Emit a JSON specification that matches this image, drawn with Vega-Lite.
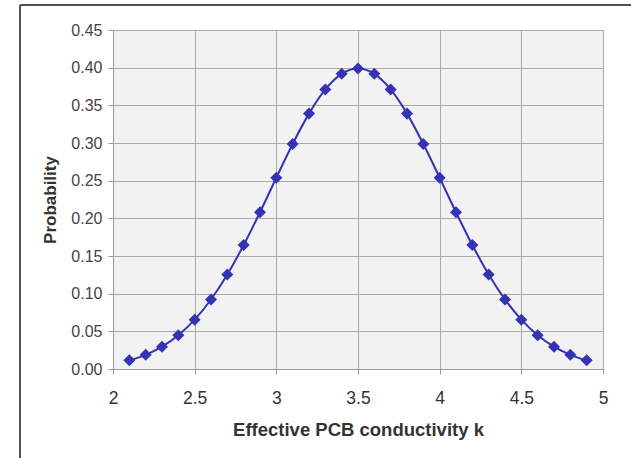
{
  "$schema": "https://vega.github.io/schema/vega-lite/v6.json",
  "width": 490,
  "height": 339,
  "autosize": {"type": "none"},
  "padding": {"left": 113, "top": 30, "right": 28, "bottom": 89},
  "background": "#ffffff",
  "config": {
    "view": {"fill": "#f2f2f2", "stroke": "#aaaaaa", "strokeWidth": 1},
    "font": "Liberation Sans",
    "axis": {
      "titleFont": "Liberation Sans",
      "titleFontWeight": "bold",
      "titleColor": "#333333",
      "labelFont": "Liberation Sans",
      "labelColor": "#444444",
      "labelFlush": false,
      "labelOverlap": false,
      "tickSize": 5,
      "tickColor": "#999999",
      "domainColor": "#999999",
      "gridColor": "#aaaaaa",
      "gridOpacity": 1
    },
    "axisX": {"labelFontSize": 17.5, "labelPadding": 15, "titleFontSize": 18.5, "titlePadding": 14, "labelColor": "#333333"},
    "axisY": {"labelFontSize": 16, "labelPadding": 6, "titleFontSize": 17, "titlePadding": 11}
  },
  "data": {
    "values": [
      {"k": 2.1, "p": 0.0115},
      {"k": 2.2, "p": 0.0188},
      {"k": 2.3, "p": 0.0296},
      {"k": 2.4, "p": 0.0448},
      {"k": 2.5, "p": 0.0655},
      {"k": 2.6, "p": 0.0923},
      {"k": 2.7, "p": 0.1255},
      {"k": 2.8, "p": 0.1646},
      {"k": 2.9, "p": 0.2081},
      {"k": 3.0, "p": 0.2539},
      {"k": 3.1, "p": 0.2987},
      {"k": 3.2, "p": 0.339},
      {"k": 3.3, "p": 0.3711},
      {"k": 3.4, "p": 0.3918},
      {"k": 3.5, "p": 0.3989},
      {"k": 3.6, "p": 0.3918},
      {"k": 3.7, "p": 0.3711},
      {"k": 3.8, "p": 0.339},
      {"k": 3.9, "p": 0.2987},
      {"k": 4.0, "p": 0.2539},
      {"k": 4.1, "p": 0.2081},
      {"k": 4.2, "p": 0.1646},
      {"k": 4.3, "p": 0.1255},
      {"k": 4.4, "p": 0.0923},
      {"k": 4.5, "p": 0.0655},
      {"k": 4.6, "p": 0.0448},
      {"k": 4.7, "p": 0.0296},
      {"k": 4.8, "p": 0.0188},
      {"k": 4.9, "p": 0.0115}
    ]
  },
  "encoding": {
    "x": {
      "field": "k", "type": "quantitative",
      "scale": {"domain": [2, 5], "nice": false, "zero": false},
      "axis": {
        "values": [2, 2.5, 3, 3.5, 4, 4.5, 5],
        "format": "~g",
        "title": "Effective PCB conductivity k"
      }
    },
    "y": {
      "field": "p", "type": "quantitative",
      "scale": {"domain": [0, 0.45], "nice": false},
      "axis": {
        "values": [0, 0.05, 0.1, 0.15, 0.2, 0.25, 0.3, 0.35, 0.4, 0.45],
        "format": ".2f",
        "title": "Probability"
      }
    }
  },
  "layer": [
    {
      "mark": {"type": "rule", "stroke": "#555555", "strokeWidth": 1.5, "clip": false},
      "encoding": {
        "x": {"datum": 1.431, "type": "quantitative"},
        "y": {"datum": 0.4832, "type": "quantitative"},
        "y2": {"datum": -0.3}
      }
    },
    {
      "mark": {"type": "rule", "stroke": "#555555", "strokeWidth": 1.5, "clip": false},
      "encoding": {
        "x": {"datum": 1.431, "type": "quantitative"},
        "x2": {"datum": 8},
        "y": {"datum": 0.4832, "type": "quantitative"}
      }
    },
    {
      "mark": {"type": "line", "interpolate": "monotone", "color": "#3333b3", "strokeWidth": 2}
    },
    {
      "mark": {"type": "point", "shape": "diamond", "filled": true, "color": "#3333b3", "size": 145, "opacity": 1}
    }
  ]
}
